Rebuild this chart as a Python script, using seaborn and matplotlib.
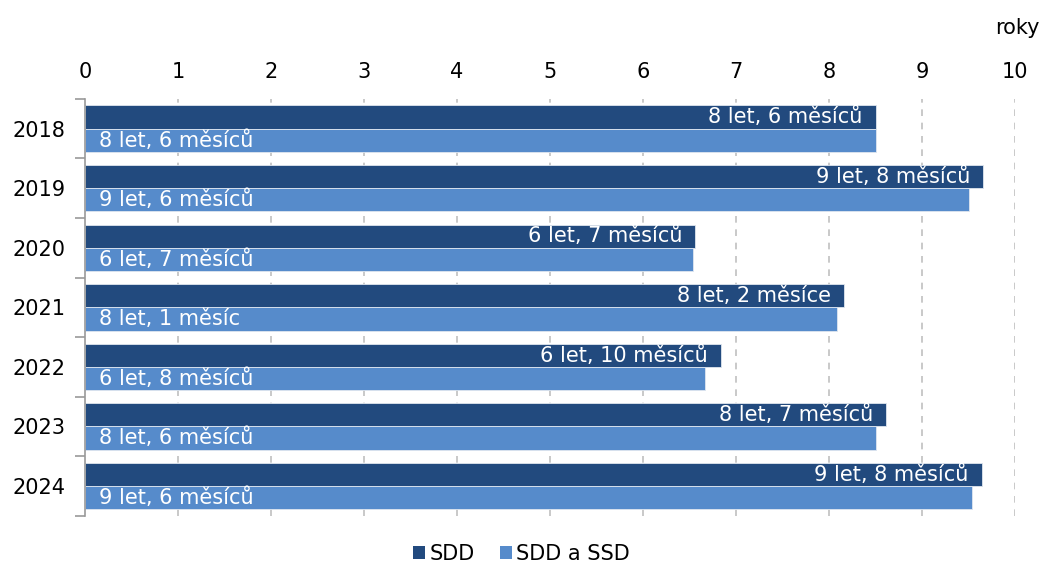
import pandas as pd
import seaborn as sns
import matplotlib.pyplot as plt
from matplotlib.patches import Patch

# data (years)
years = ['2018', '2019', '2020', '2021', '2022', '2023', '2024']
sdd = [8.5, 9.66, 6.56, 8.16, 6.84, 8.61, 9.64]
sdd_ssd = [8.5, 9.5, 6.54, 8.09, 6.67, 8.51, 9.54]
sdd_labels = ['8 let, 6 měsíců', '9 let, 8 měsíců', '6 let, 7 měsíců', '8 let, 2 měsíce',
              '6 let, 10 měsíců', '8 let, 7 měsíců', '9 let, 8 měsíců']
ssd_labels = ['8 let, 6 měsíců', '9 let, 6 měsíců', '6 let, 7 měsíců', '8 let, 1 měsíc',
              '6 let, 8 měsíců', '8 let, 6 měsíců', '9 let, 6 měsíců']
series = ['SDD', 'SDD a SSD']
colors = ['#224A7E', '#568BCB']

df = pd.DataFrame({
    'rok': years * 2,
    'hodnota': sdd + sdd_ssd,
    'serie': [series[0]] * len(years) + [series[1]] * len(years),
})

sns.set_style('white')
plt.rcParams['font.family'] = ['DejaVu Sans']
plt.rcParams['text.color'] = 'black'
plt.rcParams['xtick.color'] = 'black'
plt.rcParams['ytick.color'] = 'black'
fs = 15

fig = plt.figure(figsize=(10.43, 5.65), dpi=100)
ax = fig.add_axes([0.0815, 0.087, 0.8917, 0.738])
sns.barplot(data=df, y='rok', x='hodnota', hue='serie', orient='h',
            palette=colors, saturation=1, width=0.78, edgecolor='#dfe6ef',
            linewidth=0.6, ax=ax, legend=False)

ax.set_xlim(0, 10)
ax.set_ylim(len(years) - 0.5, -0.5)
ax.xaxis.tick_top()
ax.set_xticks(range(11))
ax.tick_params(axis='x', length=0, labelsize=fs, pad=12, labelcolor='black')
ax.set_xlabel('')
ax.set_ylabel('')
ax.tick_params(axis='y', length=0, labelsize=fs, pad=14, labelcolor='black')
ax.set_yticks([i + 0.5 for i in range(-1, len(years))], minor=True)
ax.tick_params(axis='y', which='minor', left=True, length=7, color='#999999', width=1.2)

for x in range(1, 11):
    ax.axvline(x, color='#c0c0c0', linestyle=(0, (4, 4)), linewidth=1.2, zorder=0)

for s in ['top', 'right', 'bottom']:
    ax.spines[s].set_visible(False)
ax.spines['left'].set_color('#999999')
ax.spines['left'].set_linewidth(1.2)

# labels inside bars
for i in range(len(years)):
    ax.text(sdd[i] - 0.14, i - 0.195, sdd_labels[i], ha='right', va='center',
            color='white', fontsize=fs)
    ax.text(0.15, i + 0.195, ssd_labels[i], ha='left', va='center',
            color='white', fontsize=fs)

fig.text(0.997, 0.95, 'roky', ha='right', va='center', fontsize=fs, color='black')

handles = [Patch(facecolor=c, edgecolor='none') for c in colors]
leg = fig.legend(handles, series, loc='center', bbox_to_anchor=(0.5, 0.02), ncol=2,
                 frameon=False, fontsize=fs, handlelength=0.6, handleheight=0.6,
                 handletextpad=0.2, columnspacing=1.2)
for t in leg.get_texts():
    t.set_color('black')

fig.savefig('out.png', dpi=100)
